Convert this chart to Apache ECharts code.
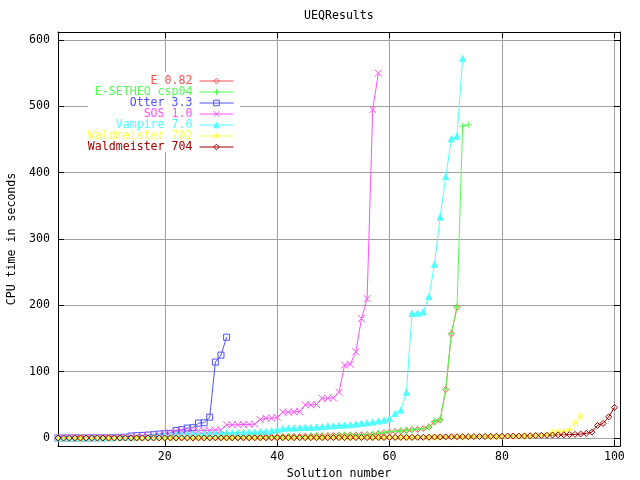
<!DOCTYPE html>
<html>
<head>
<meta charset="utf-8">
<script src="https://cdn.jsdelivr.net/npm/echarts@6/dist/echarts.min.js"></script>
<style>
html,body{margin:0;padding:0;background:#fff;}
#c{width:640px;height:480px;}
</style>
</head>
<body>
<div id="c"></div>
<script>
// ---- data (CPU time in seconds, index = solution number - 1) ----
const seriesNames = ["E 0.82", "E-SETHEO csp04", "Otter 3.3", "SOS 1.0", "Vampire 7.0", "Waldmeister 702", "Waldmeister 704"];
const xTicks = [20, 40, 60, 80, 100];
const yTicks = [0, 100, 200, 300, 400, 500, 600];

const e082 = [0.05,0.05,0.05,0.1,0.1,0.1,0.1,0.1,0.2,0.2, 0.2,0.2,0.3,0.3,0.3,0.3,0.4,0.4,0.4,0.5,
  0.5,0.5,0.6,0.6,0.7,0.7,0.8,0.8,0.9,1.0, 1.0,1.1,1.2,1.3,1.4,1.5,1.6,1.7,1.8,2.0,
  2.1,2.3,2.5,2.7,2.9,3.1,3.3,3.5,3.7,3.9, 4.1,4.3,4.5,4.7,4.9,5.1,5.4,
  6.5,8,9,10,10.5,11.5,12.5,13,14,16.5,24,27,73,157,197];
const esetheo = [0.05,0.05,0.1,0.1,0.1,0.1,0.1,0.2,0.2,0.2, 0.2,0.3,0.3,0.3,0.3,0.4,0.4,0.4,0.5,0.5,
  0.5,0.6,0.6,0.7,0.7,0.8,0.8,0.9,1.0,1.0, 1.1,1.2,1.3,1.4,1.5,1.6,1.7,1.8,2.0,2.1,
  2.2,2.4,2.6,2.8,3.0,3.3,3.5,3.6,3.8,4.0, 4.2,4.4,4.6,4.8,5.0,5.2,5.5,
  7,8,9.5,10,11,12,12.5,13.5,14,17,25,27.6,74,158,198,470,472];
const otter = [0.1,0.1,0.1,0.2,0.2,0.2,0.3,0.3,0.4,0.5, 0.6,0.8,1.2,3,3.5,4,4.5,5,6,6.5,
  7,11.5,12.5,15,15.5,22.5,23,31.5,114.5,125,152];
const sos = [0.1,0.1,0.2,0.2,0.3,0.3,0.4,0.5,0.6,0.7, 0.8,1.0,1.2,1.5,2,2.5,3,3.5,4.5,6,
  8,10,10.5,10.5,11,11,11.5,11.5,12,12, 20,20,20,20.5,20.5,21,28,30,30,31,
  39,39,39.5,40,50,50,50.5,60,60,60.5, 69,110,111,130,180,210,495,550];
const vampire = [0.1,0.1,0.1,0.2,0.2,0.3,0.3,0.4,0.5,0.6, 0.7,0.9,1.0,1.2,1.5,1.8,2.2,2.6,3,3.5,
  4,5,5.5,6,6,6.5,6.5,7,7,7.5, 8,8,8.5,8.5,9,9,9.5,10,11,12.5,
  14.5,15,15,15.5,16,16,16.5,17,18,18.5, 19,19.5,20,21,22,23,24,25.5,
  27,29,37,42,69,188,188,190,213,262,333,394,451,455,572];
const wald702 = [0.01,0.01,0.01,0.02,0.02,0.02,0.03,0.03,0.04,0.04, 0.05,0.05,0.06,0.06,0.07,0.08,0.08,0.09,0.1,0.1,
  0.1,0.12,0.13,0.14,0.15,0.16,0.17,0.18,0.2,0.2, 0.22,0.24,0.25,0.27,0.3,0.3,0.32,0.35,0.37,0.4,
  0.4,0.42,0.45,0.47,0.5,0.5,0.52,0.55,0.57,0.6, 0.6,0.62,0.65,0.67,0.7,0.7,0.72,0.75,0.77,0.8,
  0.8,0.85,0.9,0.9,0.95,1.0,1.0,1.1,1.2,1.3, 1.4,1.5,1.6,1.7,1.8,1.9,2.0,2.1,2.2,2.3,
  2.4,2.5,2.6,2.8,3,3.5,4,5,8,9.5,10,12.5,23,33];
const wald704 = [0.02,0.02,0.03,0.03,0.04,0.04,0.05,0.05,0.06,0.06, 0.07,0.07,0.08,0.08,0.09,0.1,0.1,0.11,0.12,0.13,
  0.14,0.15,0.16,0.17,0.18,0.2,0.21,0.22,0.23,0.25, 0.26,0.28,0.3,0.31,0.33,0.35,0.37,0.39,0.4,0.42,
  0.44,0.46,0.48,0.5,0.52,0.55,0.57,0.6,0.62,0.65, 0.67,0.7,0.72,0.75,0.78,0.8,0.83,0.86,0.9,0.93,
  0.96,1.0,1.0,1.05,1.1,1.15,1.2,1.6,1.7,1.8, 1.9,2.0,2.0,2.1,2.2,2.3,2.4,2.5,2.6,2.7,
  3,3,3.1,3.2,3.5,3.8,4,4.2,4.5,4.8, 5,5.2,5.5,6,7,9,19,22,32,46];

const seriesValues = [e082, esetheo, otter, sos, vampire, wald702, wald704];

// ---- styling ----
const colors = ["#ff5050", "#50ff50", "#5050ff", "#ff50ff", "#50ffff", "#ffff50", "#a00000"];
const symbols = [
  "diamond",
  "path://M0,5L10,5M5,0L5,10",
  "rect",
  "path://M0,0L10,10M10,0L0,10",
  "triangle",
  "path://M0,5L10,5M5,0L5,10M1.5,1.5L8.5,8.5M8.5,1.5L1.5,8.5",
  "diamond"
];
const symSizes = [6, 7, 6, 7, 6, 7, 6];
const filled = [false, false, false, false, true, false, false];
const FONT = "DejaVu Sans Mono";
const FS = 11.6;

const chart = echarts.init(document.getElementById('c'), null, {renderer: 'canvas'});

const fillOf = i => (filled[i] ? colors[i] : 'rgba(0,0,0,0)');

const series = seriesNames.map((name, i) => ({
  name: name,
  type: 'line',
  data: seriesValues[i].map((v, k) => [k + 1, v]),
  symbol: symbols[i],
  symbolSize: symSizes[i],
  showSymbol: true,
  showAllSymbol: true,
  clip: false,
  lineStyle: {color: colors[i], width: 1},
  itemStyle: {color: fillOf(i), borderColor: colors[i], borderWidth: 1},
  emphasis: {disabled: true},
  animation: false
}));

const rowTop = [75, 86, 97, 108, 119, 130, 141];
const legends = seriesNames.map((name, i) => ({
  data: [name],
  orient: 'vertical',
  align: 'right',
  right: 406,
  top: rowTop[i],
  padding: 0,
  itemWidth: 34,
  itemHeight: 7,
  selectedMode: false,
  itemStyle: {color: fillOf(i), borderColor: colors[i], borderWidth: 1},
  lineStyle: {color: colors[i], width: 1},
  textStyle: {color: colors[i], fontFamily: FONT, fontSize: FS, lineHeight: 12, padding: [0, 2, 0, 0]}
}));

const axisLabelStyle = {color: '#000', fontFamily: FONT, fontSize: FS};

chart.setOption({
  animation: false,
  backgroundColor: '#fff',
  title: {
    text: 'UEQResults',
    left: 304,
    top: 10,
    padding: 0,
    textStyle: {color: '#000', fontFamily: FONT, fontSize: FS, fontWeight: 'normal'}
  },
  grid: {left: 58, right: 20, top: 32, bottom: 34, containLabel: false, outerBoundsMode: 'none'},
  legend: legends,
  graphic: [{
    type: 'rect',
    z: 3,
    shape: {x: 88, y: 72, width: 152, height: 80},
    style: {fill: '#fff'}
  }],
  xAxis: [{
    type: 'value', position: 'bottom', min: 1, max: 101,
    name: 'Solution number', nameLocation: 'middle', nameGap: 18,
    nameTextStyle: axisLabelStyle,
    axisLine: {show: true, onZero: false, lineStyle: {color: '#000', width: 1}},
    axisTick: {show: true, inside: true, length: 6, customValues: xTicks, lineStyle: {color: '#000'}},
    axisLabel: {show: true, customValues: xTicks, margin: 5, ...axisLabelStyle},
    splitLine: {show: true, lineStyle: {color: '#a0a0a0', width: 1}}
  }, {
    type: 'value', position: 'top', min: 1, max: 101,
    axisLine: {show: true, onZero: false, lineStyle: {color: '#000', width: 1}},
    axisTick: {show: true, inside: true, length: 6, customValues: xTicks, lineStyle: {color: '#000'}},
    axisLabel: {show: false},
    splitLine: {show: false}
  }],
  yAxis: [{
    type: 'value', position: 'left', min: -12, max: 612,
    name: 'CPU time in seconds', nameLocation: 'middle', nameGap: 39, nameRotate: 90,
    nameTextStyle: axisLabelStyle,
    axisLine: {show: true, onZero: false, lineStyle: {color: '#000', width: 1}},
    axisTick: {show: true, inside: true, length: 6, customValues: yTicks, lineStyle: {color: '#000'}},
    axisLabel: {show: true, customValues: yTicks, margin: 8, ...axisLabelStyle},
    splitLine: {show: true, lineStyle: {color: '#a0a0a0', width: 1}}
  }, {
    type: 'value', position: 'right', min: -12, max: 612,
    axisLine: {show: true, onZero: false, lineStyle: {color: '#000', width: 1}},
    axisTick: {show: true, inside: true, length: 6, customValues: yTicks, lineStyle: {color: '#000'}},
    axisLabel: {show: false},
    splitLine: {show: false}
  }],
  series: series
});
</script>
</body>
</html>
